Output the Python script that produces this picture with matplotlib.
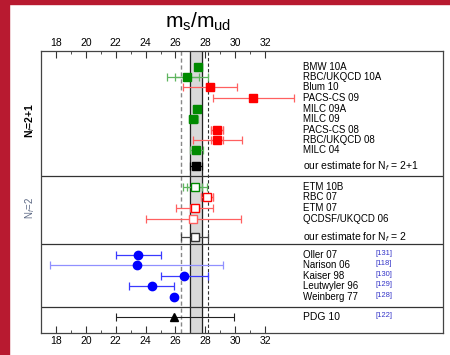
import numpy as np
import matplotlib.pyplot as plt
from matplotlib.patches import Rectangle

plt.rcParams['font.family'] = ['Liberation Sans', 'DejaVu Sans']
plt.rcParams['mathtext.fontset'] = 'custom'
plt.rcParams['mathtext.rm'] = 'Liberation Sans'
plt.rcParams['mathtext.it'] = 'Liberation Sans:italic'

# N_f = 2+1 lattice results
lat21_names = ["BMW 10A", "RBC/UKQCD 10A", "Blum 10", "PACS-CS 09", "MILC 09A",
               "MILC 09", "PACS-CS 08", "RBC/UKQCD 08", "MILC 04"]
lat21_val = [27.53, 26.8, 28.31, 31.2, 27.41, 27.2, 28.8, 28.8, 27.4]
lat21_stat = [0.20, 0.8, 0.29, 0.0, 0.05, 0.1, 0.4, 0.4, 0.1]
lat21_tot = [0.22, 1.4, 1.8, 2.7, 0.23, 0.32, 0.4, 1.65, 0.41]
lat21_col = ["g", "g", "r", "r", "g", "g", "r", "r", "g"]

# N_f = 2 lattice results
lat2_names = ["ETM 10B", "RBC 07", "ETM 07", "QCDSF/UKQCD 06"]
lat2_val = [27.3, 28.1, 27.3, 27.2]
lat2_stat = [0.5, 0.38, 0.3, 0.0]
lat2_tot = [0.8, 0.38, 1.24, 3.2]
lat2_col = ["g", "r", "r", "r"]

# estimates
est21_val, est21_err = 27.4, 0.4
est2_val, est2_err = 27.3, 0.9

# phenomenology
pheno_names = ["Oller 07", "Narison 06", "Kaiser 98", "Leutwyler 96", "Weinberg 77"]
pheno_refs = ["[131]", "[118]", "[130]", "[129]", "[128]"]
pheno_val = [23.5, 23.4, 26.6, 24.4, 25.9]
pheno_err = [1.5, 5.8, 1.6, 1.5, 0.0]

pdg_val = 25.9
pdg_lo, pdg_hi = 3.9, 4.0

colors = {"g": "#008a00", "r": "#ff0000", "b": "#0000ff", "k": "#000000"}
faded = {"g": "#5fb55f", "r": "#ff6060", "b": "#7070ff", "k": "#333333"}

y21 = [1.5, 2.5, 3.5, 4.55, 5.55, 6.55, 7.55, 8.55, 9.55]
y21_est = 11.05
y2 = [13.05, 14.05, 15.05, 16.1]
y2_est = 17.85
yph = [19.6, 20.6, 21.6, 22.6, 23.65]
ypdg = 25.6
seps = [12.0, 18.55, 24.6]

fig = plt.figure(figsize=(4.5, 3.55), dpi=100)
ax = fig.add_axes([41/450, 22/355, 402/450, 282/355])
ax.set_xlim(17.0, 43.9)
ax.set_ylim(27.1, 0)

# band and dashed lines
ax.axvspan(27.0, 27.8, color="#d9d9d9", zorder=0)
ax.axvline(27.0, color="#222222", lw=0.9, zorder=1)
ax.axvline(27.8, color="#222222", lw=0.9, zorder=1)
ax.axvline(26.4, color="#888888", lw=1.0, ls=(0, (3, 2)), zorder=1)
ax.axvline(28.2, color="#333333", lw=0.8, ls=(0, (3, 2)), zorder=1)
for s in seps:
    ax.axhline(s, color="#333333", lw=0.9)


def bar(x, y, err, col, lw=0.9):
    if err <= 0:
        return
    ax.errorbar(x, y, xerr=err, fmt="none", ecolor=col, elinewidth=lw,
                capsize=3, capthick=lw, zorder=2)


for v, st, tot, c, y in zip(lat21_val, lat21_stat, lat21_tot, lat21_col, y21):
    bar(v, y, tot, faded[c])
    bar(v, y, st, faded[c])
    ax.plot(v, y, "s", ms=5.5, color=colors[c], zorder=3)
bar(est21_val, y21_est, est21_err, "k")
ax.plot(est21_val, y21_est, "s", ms=5.5, color="k", zorder=3)

for v, st, tot, c, y, n in zip(lat2_val, lat2_stat, lat2_tot, lat2_col, y2, lat2_names):
    ec = faded[c] if n.startswith("QCDSF") else colors[c]
    bar(v, y, tot, faded[c])
    bar(v, y, st, faded[c])
    ax.plot(v, y, "s", ms=5.5, mfc="white", mec=ec, mew=1.0, zorder=3)
bar(est2_val, y2_est, est2_err, "#444444")
ax.plot(est2_val, y2_est, "s", ms=5.5, mfc="white", mec="#333333", mew=1.0, zorder=3)

for v, e, y, n in zip(pheno_val, pheno_err, yph, pheno_names):
    bar(v, y, e, "#9090ff" if n.startswith("Narison") else "#3a3aff")
    ax.plot(v, y, "o", ms=6, color=colors["b"], zorder=3)

ax.errorbar(pdg_val, ypdg, xerr=[[pdg_lo], [pdg_hi]], fmt="none", ecolor="#222222",
            elinewidth=0.8, capsize=3, capthick=0.8)
ax.plot(pdg_val, ypdg, "^", ms=6, color="k", zorder=3)

# labels
xt, xr = 34.5, 39.4
for n, y in zip(lat21_names, y21):
    ax.text(xt, y, n, fontsize=7, va="center")
ax.text(xt, y21_est, "our estimate for N$_f$ = 2+1", fontsize=7.5, va="center")
for n, y in zip(lat2_names, y2):
    ax.text(xt, y, n, fontsize=7, va="center")
ax.text(xt, y2_est, "our estimate for N$_f$ = 2", fontsize=7.5, va="center")
for n, r, y in zip(pheno_names, pheno_refs, yph):
    ax.text(xt, y, n, fontsize=7, va="center")
    ax.text(xr, y - 0.15, r, fontsize=5.5, va="center", color="#3535c8")
ax.text(xt, ypdg, "PDG 10", fontsize=7.5, va="center")
ax.text(xr, ypdg - 0.15, "[122]", fontsize=5.5, va="center", color="#3535c8")

ax.set_xticks(np.arange(18, 33, 2))
ax.set_xticks(np.arange(19, 32, 2), minor=True)
ax.set_yticks([])
ax.tick_params(axis="x", which="both", direction="in", top=True, labeltop=True,
               labelsize=7.5, pad=2, color="#333333")
ax.tick_params(axis="x", which="major", length=5)
ax.tick_params(axis="x", which="minor", length=2.5)
for sp in ax.spines.values():
    sp.set_color("#444444")
    sp.set_linewidth(0.9)

fig.text(198/450, 1 - 22/355, r"$\mathrm{m_s/m_{ud}}$", fontsize=15, ha="center", va="center")
fig.text(30/450, 1 - 120/355, "N$_f$=2+1", rotation=90, fontsize=7.5,
         fontweight="bold", ha="center", va="center")
fig.text(30/450, 1 - 208/355, "N$_f$=2", rotation=90, fontsize=7,
         color="#5a6682", ha="center", va="center")

# page border
fig.patches.append(Rectangle((0, 0), 9/450, 1, transform=fig.transFigure,
                             color="#b81a30", zorder=0))
fig.patches.append(Rectangle((0, 1 - 3.5/355), 1, 3.5/355, transform=fig.transFigure,
                             color="#b81a30", zorder=0))

fig.savefig("out.png", dpi=100)
